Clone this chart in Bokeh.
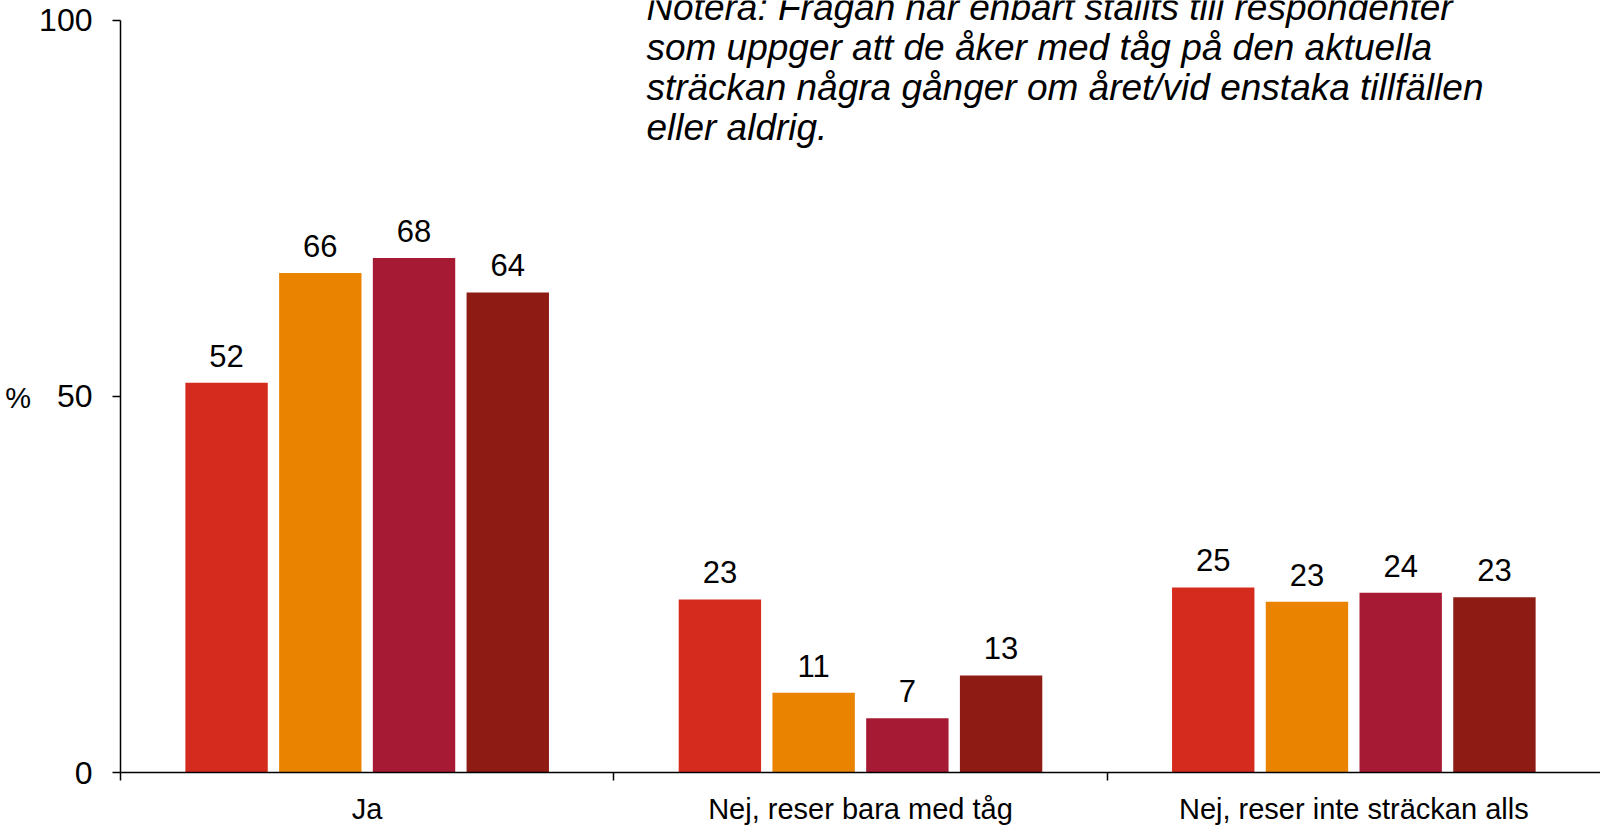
from bokeh.plotting import figure
from bokeh.models import Range1d, LinearAxis, FixedTicker, ColumnDataSource
from bokeh.core.properties import value
from bokeh.transform import dodge
from bokeh.embed import file_html
from bokeh.resources import INLINE

# ---- data ----
categories = ["Ja", "Nej, reser bara med tåg", "Nej, reser inte sträckan alls"]
series_a = [51.8, 23.0, 24.6]
series_b = [66.4, 10.6, 22.7]
series_c = [68.4, 7.2, 23.9]
series_d = [63.8, 12.9, 23.3]
labels_a = ["52", "23", "25"]
labels_b = ["66", "11", "23"]
labels_c = ["68", "7", "24"]
labels_d = ["64", "13", "23"]
y_ticks = [0, 50, 100]
y_title = "%"
note_lines = [
    "Notera: Frågan har enbart ställts till respondenter",
    "som uppger att de åker med tåg på den aktuella",
    "sträckan några gånger om året/vid enstaka tillfällen",
    "eller aldrig.",
]

colors = ["#D52B1E", "#E98300", "#A61A33", "#8E1B14"]
offsets = [-0.285, -0.095, 0.095, 0.285]
FONT = "Liberation Sans"

p = figure(width=1600, height=827, x_range=Range1d(0, 3), y_range=Range1d(0, 102.61),
           output_backend="svg", toolbar_location=None,
           x_axis_type=None, y_axis_type=None,
           min_border_left=120, min_border_right=0, min_border_top=0, min_border_bottom=54)
p.outline_line_color = None
p.xgrid.visible = False
p.ygrid.visible = False
p.background_fill_color = "white"
p.border_fill_color = "white"

centers = [i + 0.5 for i in range(len(categories))]
all_series = [series_a, series_b, series_c, series_d]
all_labels = [labels_a, labels_b, labels_c, labels_d]
for vals, labs, col, off in zip(all_series, all_labels, colors, offsets):
    src = ColumnDataSource(dict(x=centers, top=vals, lab=labs))
    p.vbar(x=dodge("x", off, range=p.x_range), top="top", bottom=0, width=0.167,
           source=src, fill_color=col, line_color=None)
    p.text(x=dodge("x", off, range=p.x_range), y="top", text="lab", source=src,
           text_align="center", text_baseline="alphabetic", y_offset=-27,
           text_font=value(FONT), text_font_size="31px", text_color="black")

# note text
note_src = ColumnDataSource(dict(x=[1.066] * len(note_lines), y=[101.67] * len(note_lines),
                                 text=note_lines, yo=[0, 40, 80, 120]))
p.text(x="x", y="y", text="text", y_offset="yo", source=note_src,
       text_align="left", text_baseline="alphabetic",
       text_font=value(FONT), text_font_style="italic", text_font_size="37px",
       text_color="black")

# y axis
yaxis = LinearAxis(ticker=FixedTicker(ticks=y_ticks), bounds=(0, 100))
yaxis.axis_label = "\n" + y_title
yaxis.axis_label_orientation = "horizontal"
yaxis.axis_label_text_font_style = "normal"
yaxis.axis_label_text_font = FONT
yaxis.axis_label_text_font_size = "29px"
yaxis.axis_label_text_line_height = 0.7
yaxis.axis_label_text_color = "black"
yaxis.axis_label_standoff = 5
yaxis.major_label_text_font = FONT
yaxis.major_label_text_font_size = "32px"
yaxis.major_label_text_color = "black"
yaxis.major_label_standoff = 20
yaxis.major_tick_out = 8
yaxis.major_tick_in = 0
yaxis.minor_tick_out = 0
yaxis.minor_tick_in = 0
yaxis.axis_line_color = "black"
yaxis.axis_line_width = 1.5
yaxis.major_tick_line_color = "black"
yaxis.major_tick_line_width = 1.5
p.add_layout(yaxis, "left")

# x axis
xaxis = LinearAxis(ticker=FixedTicker(ticks=centers, minor_ticks=[0, 1, 2]))
xaxis.major_label_overrides = {c: cat for c, cat in zip(centers, categories)}
xaxis.major_label_text_font = FONT
xaxis.major_label_text_font_size = "29px"
xaxis.major_label_text_color = "black"
xaxis.major_label_standoff = 12
xaxis.major_tick_out = 0
xaxis.major_tick_in = 0
xaxis.minor_tick_out = 8
xaxis.minor_tick_in = 0
xaxis.minor_tick_line_color = "black"
xaxis.minor_tick_line_width = 1.5
xaxis.axis_line_color = "black"
xaxis.axis_line_width = 1.5
p.add_layout(xaxis, "below")

open("out.html", "w").write(file_html(p, INLINE))
